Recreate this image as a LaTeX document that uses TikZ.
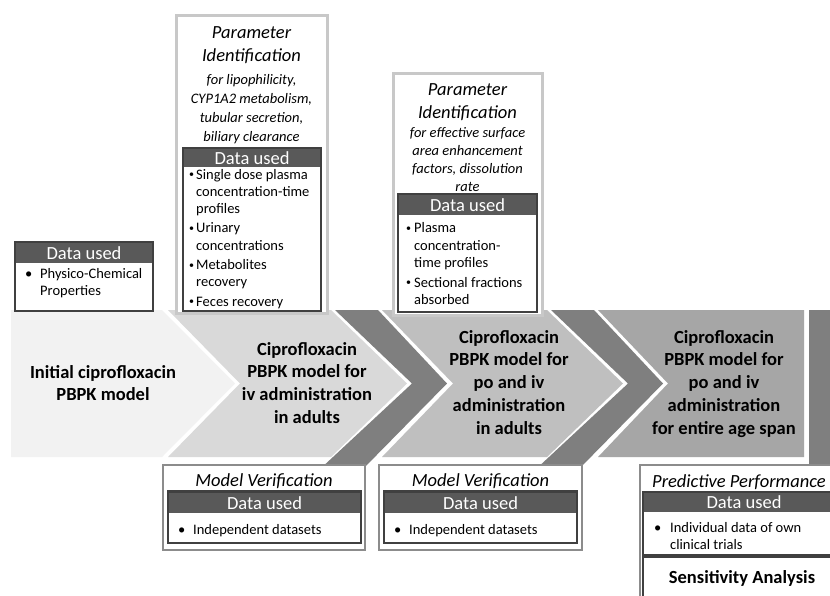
\documentclass[tikz,border=0pt]{standalone}
\usepackage{fontspec}
\setmainfont{Carlito}
\definecolor{cone}{HTML}{F2F2F2}
\definecolor{ctwo}{HTML}{D9D9D9}
\definecolor{cthree}{HTML}{BFBFBF}
\definecolor{cfour}{HTML}{A6A6A6}
\definecolor{cdark}{HTML}{7F7F7F}
\definecolor{hdrgray}{HTML}{595959}
\definecolor{framedark}{HTML}{404040}
\definecolor{framelight}{HTML}{C8C8C8}
\definecolor{framemid}{HTML}{8C8C8C}
\newcommand{\mlines}[1]{\begin{tabular}[t]{@{}c@{}}#1\end{tabular}}
\newcommand{\blist}[1]{\begin{tabular}[t]{@{}l@{}l@{}}#1\end{tabular}}
\newcommand{\bu}[1]{\makebox[#1][l]{\textbullet}}
\newcommand{\sbu}[1]{\makebox[#1][l]{\raisebox{1.5pt}{\fontsize{10}{10}\selectfont\textbullet}}}
\newcommand{\dbox}[6]{%
  \fill[white] (#2,#4) rectangle (#3,#6);
  \fill[hdrgray] (#2,#4) rectangle (#3,#5);
  \draw[inframe] (#2,#4) rectangle (#3,#6);
  \node[hdrtxt] (#1) at ({(#2+#3)/2},{(#4+#5)/2+0.5}) {Data used};
}
\tikzset{
  bandtxt/.style={font=\fontsize{18.5}{22.7}\selectfont\bfseries, text=black, inner sep=0pt, anchor=base},
  ttl/.style={font=\fontsize{18.5}{23}\selectfont\itshape, text=black, inner sep=0pt, anchor=base},
  subttl/.style={font=\fontsize{14.5}{18.5}\selectfont\itshape, text=black, inner sep=0pt, anchor=base},
  hdrtxt/.style={font=\fontsize{18.5}{18.5}\selectfont, text=white, inner sep=0pt},
  bultxt/.style={font=\fontsize{14.5}{17.5}\selectfont, text=black, inner sep=0pt, anchor=base west},
  inframe/.style={draw=framedark, line width=2.2pt},
  pframe/.style={draw=framelight, line width=3pt, fill=white},
  mframe/.style={draw=framemid, line width=2.2pt, fill=white},
}
\begin{document}
\begin{tikzpicture}[x=1pt,y=-1pt]
\path[use as bounding box] (0,0) rectangle (830,595);
\clip (0,0) rectangle (830,595);
\fill[white] (0,0) rectangle (830,595);

% process band
\fill[cone] (11,310) -- (162,310) -- (235,383.5) -- (162,457) -- (11,457) -- cycle;
\fill[ctwo] (168,310) -- (331,310) -- (407,383.5) -- (331,457) -- (168,457) -- (240,383.5) -- cycle;
\fill[cdark] (335,310) -- (378,310) -- (447,383.5) -- (362,470) -- (319,470) -- (412,383.5) -- cycle;
\fill[cthree] (382,310) -- (547,310) -- (623,383.5) -- (547,457) -- (382,457) -- (453,383.5) -- cycle;
\fill[cdark] (551,310) -- (594,310) -- (663,383.5) -- (578,470) -- (535,470) -- (628,383.5) -- cycle;
\fill[cfour] (598,310) -- (804,310) -- (804,457) -- (598,457) -- (668,383.5) -- cycle;
\fill[cdark] (809,310) rectangle (830,465);

\node[bandtxt] (s1) at (103,378.2) {\mlines{Initial ciprofloxacin\\PBPK model}};
\node[bandtxt] (s2) at (307,355.2) {\mlines{Ciprofloxacin\\PBPK model for\\iv administration\\in adults}};
\node[bandtxt] (s3) at (509,343.2) {\mlines{Ciprofloxacin\\PBPK model for\\po and iv\\administration\\in adults}};
\node[bandtxt] (s4) at (724,343.2) {\mlines{Ciprofloxacin\\PBPK model for\\po and iv\\administration\\for entire age span}};

% data used box 0
\dbox{d0}{15}{153}{242}{263}{311}
\node[bultxt] (d0b) at (25,278) {\blist{\bu{15pt} & Physico-Chemical\\ & Properties}};

% parameter identification 1
\draw[pframe] (176,15) rectangle (327,313);
\node[ttl] (p1t) at (251.5,38.5) {\mlines{Parameter\\Identification}};
\node[subttl, font=\fontsize{14.5}{19}\selectfont\itshape] (p1s) at (251.5,84.5) {\mlines{for lipophilicity,\\CYP1A2 metabolism,\\tubular secretion,\\biliary clearance}};
\dbox{p1d}{183}{321}{148}{167}{311}
\node[bultxt, font=\fontsize{14.5}{17.3}\selectfont] (p1b) at (189,179) {\blist{\sbu{7pt} & Single dose plasma\\ & concentration-time\\ & profiles\\[2pt] \sbu{7pt} & Urinary\\ & concentrations\\[2pt] \sbu{7pt} & Metabolites\\ & recovery\\[2pt] \sbu{7pt} & Feces recovery}};

% parameter identification 2
\draw[pframe] (393,73) rectangle (542,315);
\node[ttl] (p2t) at (467.5,95) {\mlines{Parameter\\Identification}};
\node[subttl, font=\fontsize{14.5}{18}\selectfont\itshape] (p2s) at (467.5,137.5) {\mlines{for effective surface\\area enhancement\\factors, dissolution\\rate}};
\dbox{p2d}{398}{537}{194}{215}{312}
\node[bultxt] (p2b) at (406,232.5) {\blist{\sbu{8pt} & Plasma\\ & concentration-\\ & time profiles\\[2pt] \sbu{8pt} & Sectional fractions\\ & absorbed}};

% model verification 1
\draw[mframe] (163,465) rectangle (365,550);
\node[ttl] (mv1t) at (264,486) {Model Verification};
\dbox{mv1d}{168}{361}{491.5}{513}{543}
\node[bultxt] (mv1b) at (178,534) {\blist{\bu{15pt} & Independent datasets}};

% model verification 2
\draw[mframe] (379,465) rectangle (582,550);
\node[ttl] (mv2t) at (480.5,486) {Model Verification};
\dbox{mv2d}{384}{577}{491.5}{513}{543}
\node[bultxt] (mv2b) at (394,534) {\blist{\bu{15pt} & Independent datasets}};

% predictive performance
\draw[mframe] (640,465) rectangle (900,640);
\node[ttl, anchor=base west] (prt) at (652,487) {Predictive Performance};
\dbox{prd}{643}{845}{492}{512}{555}
\node[bultxt] (prb) at (654,532) {\blist{\bu{16pt} & Individual data of own\\ & clinical trials}};
\draw[inframe, fill=white] (643,557) rectangle (845,640);
\node[bandtxt] (sa) at (742,583) {Sensitivity Analysis};
\end{tikzpicture}
\end{document}
